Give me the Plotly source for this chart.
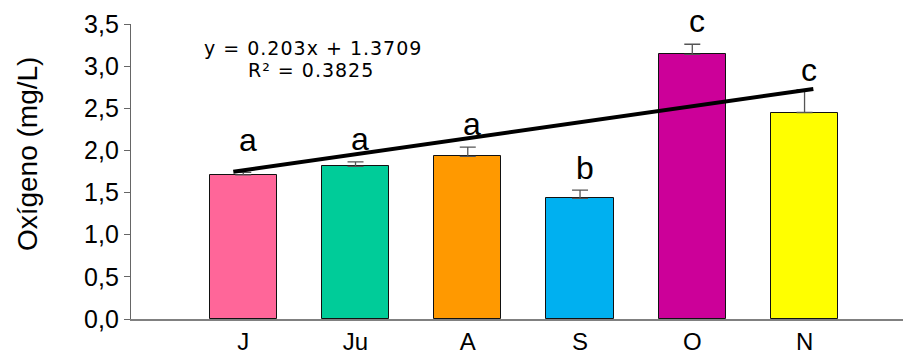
import plotly.graph_objects as go

# Monthly dissolved oxygen, mean with upper error
months = ["J", "Ju", "A", "S", "O", "N"]
oxygen = [1.71, 1.81, 1.93, 1.43, 3.14, 2.45]
oxygen_err = [0.03, 0.055, 0.11, 0.10, 0.12, 0.27]
bar_colors = ["#FF6699", "#00CC99", "#FF9900", "#00B0F0", "#CC0099", "#FFFF00"]

# Significance letters and the height of their baselines
group_letters = ["a", "a", "a", "b", "c", "c"]
letter_y = [1.985, 1.997, 2.171, 1.649, 3.389, 2.815]

# Linear trend fitted on month index 1..6
slope, intercept, r2 = 0.203, 1.3709, 0.3825
trend_x = [1, 6]
trend_y = [slope * x + intercept for x in trend_x]

positions = list(range(1, len(months) + 1))
ARIAL = "Arial, Liberation Sans, sans-serif"
VERDANA = "DejaVu Sans, Verdana, sans-serif"

fig = go.Figure()

fig.add_trace(go.Bar(
    x=positions, y=oxygen, width=0.6,
    marker=dict(color=bar_colors, line=dict(color="#111111", width=1)),
    error_y=dict(type="data", array=oxygen_err, arrayminus=[0] * len(oxygen),
                 symmetric=False, color="#555555", thickness=1.3, width=8),
    showlegend=False,
))

# Trend line lives on its own overlaid scale
fig.add_trace(go.Scatter(
    x=trend_x, y=trend_y, mode="lines", xaxis="x2", yaxis="y2",
    line=dict(color="black", width=4), showlegend=False,
))

for xi, letter, ly in zip(positions, group_letters, letter_y):
    fig.add_annotation(x=xi + 0.04, y=ly, text=letter, showarrow=False,
                       xanchor="center", yanchor="bottom", yshift=-8,
                       font=dict(family=ARIAL, size=32, color="black"))

fig.add_annotation(x=1.624, y=3.219,
                   text=f"<span style='letter-spacing:1px'>y = {slope}x + {intercept}</span>",
                   showarrow=False, xanchor="center", yanchor="middle", borderpad=0,
                   font=dict(family=VERDANA, size=19, color="black"))
fig.add_annotation(x=1.606, y=2.951,
                   text=f"<span style='letter-spacing:1px'>R² = {r2}</span>",
                   showarrow=False, xanchor="center", yanchor="middle", borderpad=0,
                   font=dict(family=VERDANA, size=19, color="black"))

fig.add_annotation(xref="paper", yref="paper", x=-0.1347, y=0.559,
                   text="Oxígeno (mg/L)", textangle=-90, showarrow=False,
                   xanchor="center", yanchor="middle",
                   font=dict(family=ARIAL, size=28, color="black"))

fig.update_layout(
    width=903, height=356,
    margin=dict(l=131, r=0, t=24, b=37),
    paper_bgcolor="white", plot_bgcolor="white",
    separators=",.",
    bargap=0,
    xaxis=dict(range=[0, 6.877], tickvals=positions, ticktext=months,
               automargin=False,
               showgrid=False, zeroline=False, showline=True,
               linecolor="#808080", linewidth=1.5, ticks="", ticklabelstandoff=0,
               tickfont=dict(family=ARIAL, size=24, color="black")),
    yaxis=dict(range=[0, 3.5], dtick=0.5, tickformat=".1f", automargin=False,
               showgrid=False, zeroline=False, showline=True,
               linecolor="#666666", linewidth=1.3, ticks="outside", ticklen=6,
               tickcolor="#666666", tickwidth=1,
               tickfont=dict(family=ARIAL, size=25, color="black")),
    xaxis2=dict(overlaying="x", anchor="y2", range=[0.118, 6.773], visible=False),
    yaxis2=dict(overlaying="y", anchor="x2", range=[-0.234, 3.3866], visible=False),
)

fig.write_html("out.html")
